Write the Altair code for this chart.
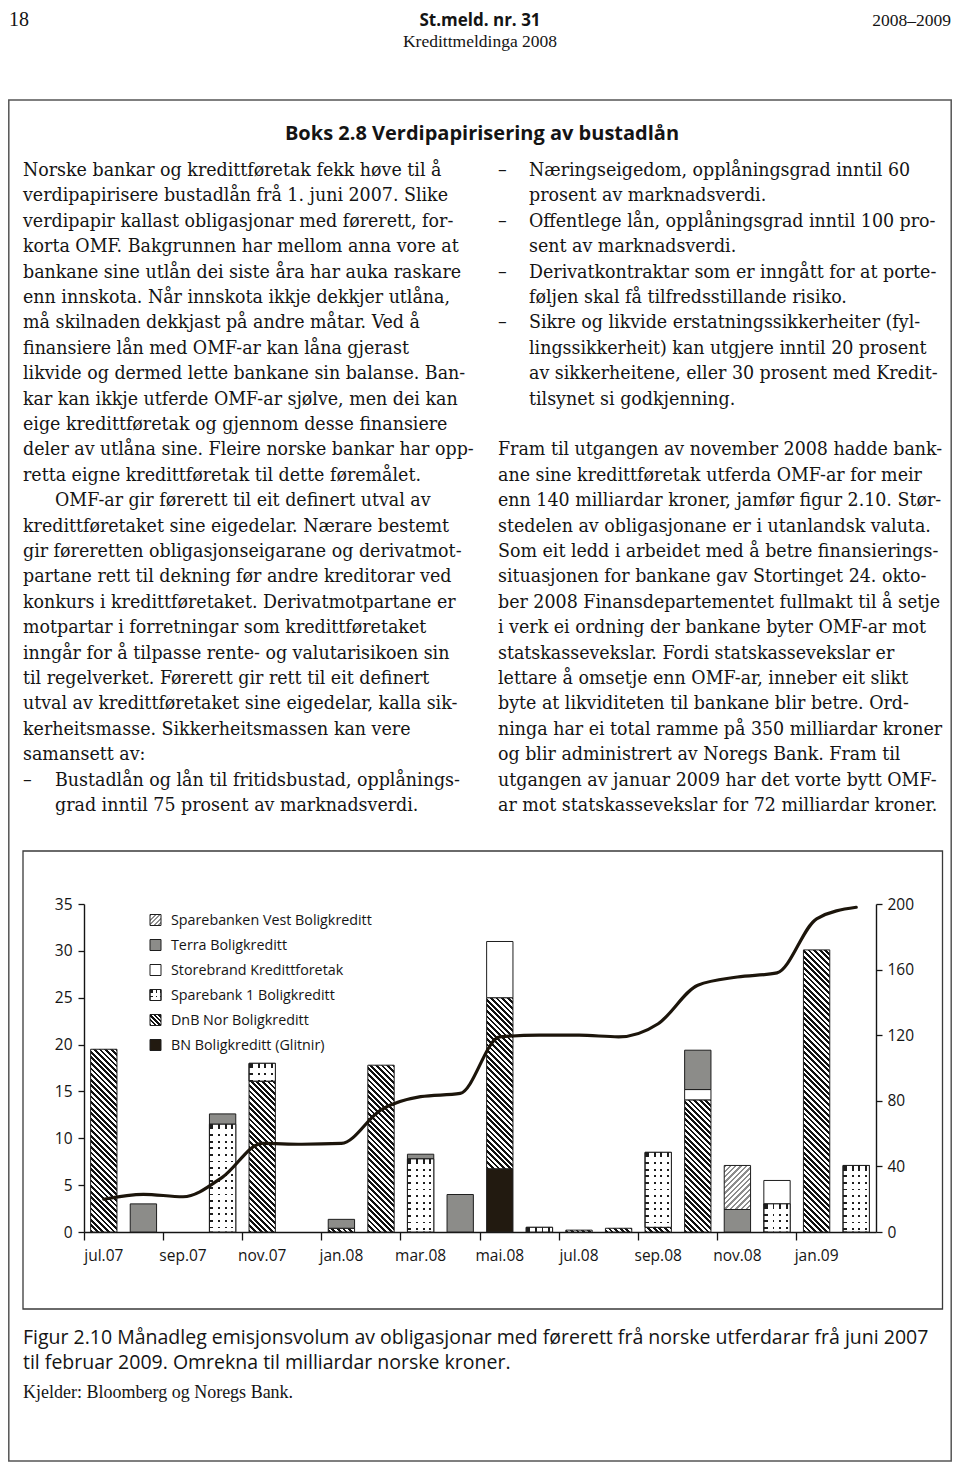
import math
import altair as alt
import pandas as pd

# ---------------- data ----------------
months = ["jul.07", "aug.07", "sep.07", "okt.07", "nov.07", "des.07", "jan.08",
          "feb.08", "mar.08", "apr.08", "mai.08", "jun.08", "jul.08", "aug.08",
          "sep.08", "okt.08", "nov.08", "des.08", "jan.09", "feb.09"]

bn_glitnir = [0, 0, 0, 0, 0, 0, 0, 0, 0, 0, 6.75, 0, 0, 0, 0, 0, 0, 0, 0, 0]
dnb_nor = [19.5, 0, 0, 0, 16.1, 0, 0.4, 17.8, 0, 0, 18.25, 0, 0.2, 0.4, 0.5, 14.1, 0, 0, 30.1, 0]
sparebank1 = [0, 0, 0, 11.5, 1.9, 0, 0, 0, 7.8, 0, 0, 0.5, 0, 0, 8.0, 0, 0, 3.0, 0, 7.1]
storebrand = [0, 0, 0, 0, 0, 0, 0, 0, 0, 0, 6.0, 0, 0, 0, 0, 1.1, 0, 2.5, 0, 0]
terra = [0, 3.0, 0, 1.1, 0, 0, 0.95, 0, 0.5, 4.0, 0, 0, 0, 0, 0, 4.2, 2.4, 0, 0, 0]
spvest = [0, 0, 0, 0, 0, 0, 0, 0, 0, 0, 0, 0, 0, 0, 0, 0, 4.7, 0, 0, 0]

cumulative_total = [20, 23, 21.5, 33.5, 54, 53.5, 54, 74.5, 82.5, 84.5, 119, 120, 120,
                    119, 127, 150.5, 155.5, 158, 191, 198]

left_ticks = [0, 5, 10, 15, 20, 25, 30, 35]
right_ticks = [0, 40, 80, 120, 160, 200]
x_label_months = months[0::2]

legend_names = ["Sparebanken Vest Boligkreditt", "Terra Boligkreditt",
                "Storebrand Kredittforetak", "Sparebank 1 Boligkreditt",
                "DnB Nor Boligkreditt", "BN Boligkreditt (Glitnir)"]

# stacking order, bottom -> top
stack_series = [
    ("BN Boligkreditt (Glitnir)", bn_glitnir),
    ("DnB Nor Boligkreditt", dnb_nor),
    ("Sparebank 1 Boligkreditt", sparebank1),
    ("Storebrand Kredittforetak", storebrand),
    ("Terra Boligkreditt", terra),
    ("Sparebanken Vest Boligkreditt", spvest),
]

header_left = "18"
header_center = "St.meld. nr. 31"
header_sub = "Kredittmeldinga 2008"
header_right = "2008–2009"
box_title = "Boks 2.8  Verdipapirisering av bustadlån"

left_par1 = [
    "Norske bankar og kredittføretak fekk høve til å",
    "verdipapirisere bustadlån frå 1. juni 2007. Slike",
    "verdipapir kallast obligasjonar med førerett, for-",
    "korta OMF. Bakgrunnen har mellom anna vore at",
    "bankane sine utlån dei siste åra har auka raskare",
    "enn innskota. Når innskota ikkje dekkjer utlåna,",
    "må skilnaden dekkjast på andre måtar. Ved å",
    "finansiere lån med OMF-ar kan låna gjerast",
    "likvide og dermed lette bankane sin balanse. Ban-",
    "kar kan ikkje utferde OMF-ar sjølve, men dei kan",
    "eige kredittføretak og gjennom desse finansiere",
    "deler av utlåna sine. Fleire norske bankar har opp-",
    "retta eigne kredittføretak til dette føremålet.",
]
left_par2_first = "OMF-ar gir førerett til eit definert utval av"
left_par2 = [
    "kredittføretaket sine eigedelar. Nærare bestemt",
    "gir føreretten obligasjonseigarane og derivatmot-",
    "partane rett til dekning før andre kreditorar ved",
    "konkurs i kredittføretaket. Derivatmotpartane er",
    "motpartar i forretningar som kredittføretaket",
    "inngår for å tilpasse rente- og valutarisikoen sin",
    "til regelverket. Førerett gir rett til eit definert",
    "utval av kredittføretaket sine eigedelar, kalla sik-",
    "kerheitsmasse. Sikkerheitsmassen kan vere",
    "samansett av:",
]
left_bullet = ["Bustadlån og lån til fritidsbustad, opplånings-",
               "grad inntil 75 prosent av marknadsverdi."]

right_bullets = [
    "Næringseigedom, opplåningsgrad inntil 60",
    "prosent av marknadsverdi.",
    "Offentlege lån, opplåningsgrad inntil 100 pro-",
    "sent av marknadsverdi.",
    "Derivatkontraktar som er inngått for at porte-",
    "føljen skal få tilfredsstillande risiko.",
    "Sikre og likvide erstatningssikkerheiter (fyl-",
    "lingssikkerheit) kan utgjere inntil 20 prosent",
    "av sikkerheitene, eller 30 prosent med Kredit-",
    "tilsynet si godkjenning.",
]
right_dash_lines = [0, 2, 4, 6]
right_par = [
    "Fram til utgangen av november 2008 hadde bank-",
    "ane sine kredittføretak utferda OMF-ar for meir",
    "enn 140 milliardar kroner, jamfør figur 2.10. Stør-",
    "stedelen av obligasjonane er i utanlandsk valuta.",
    "Som eit ledd i arbeidet med å betre finansierings-",
    "situasjonen for bankane gav Stortinget 24. okto-",
    "ber 2008 Finansdepartementet fullmakt til å setje",
    "i verk ei ordning der bankane byter OMF-ar mot",
    "statskassevekslar. Fordi statskassevekslar er",
    "lettare å omsetje enn OMF-ar, inneber eit slikt",
    "byte at likviditeten til bankane blir betre. Ord-",
    "ninga har ei total ramme på 350 milliardar kroner",
    "og blir administrert av Noregs Bank. Fram til",
    "utgangen av januar 2009 har det vorte bytt OMF-",
    "ar mot statskassevekslar for 72 milliardar kroner.",
]
caption_lines = ["Figur 2.10  Månadleg emisjonsvolum av obligasjonar med førerett frå norske utferdarar frå juni 2007",
                 "til februar 2009. Omrekna til milliardar norske kroner."]
source_line = "Kjelder: Bloomberg og Noregs Bank."

# ---------------- layout (page pixels) ----------------
OFF = 8
W, H = 944, 1454


def c(p):
    return p - OFF


X_LEFT, X_RIGHT = 84, 876
Y_BASE, Y_TOP = 1232, 904
BAR_FRAC = 0.665
band_px = (X_RIGHT - X_LEFT) / len(months)
bar_w = band_px * BAR_FRAC
px_per_unit = (Y_BASE - Y_TOP) / 35.0

SERIF = "DejaVu Serif Condensed, DejaVu Serif"
SERIF2 = "Liberation Serif"
SANS = "Open Sans"
INK = "#141414"


# ---------------- pattern fills (gradients) ----------------
def stripe_stops(length, period, dark_frac, dark, light, phase=0.0):
    stops = []
    pos = -phase
    while pos < length:
        a = max(pos, 0) / length
        b = min(max(pos + dark_frac * period, 0) / length, 1.0)
        e = min((pos + period) / length, 1.0)
        stops.append({"offset": round(a, 5), "color": dark})
        stops.append({"offset": round(b, 5), "color": dark})
        if b < 1.0:
            stops.append({"offset": round(b, 5), "color": light})
            stops.append({"offset": round(e, 5), "color": light})
        pos += period
    return stops


def hatch_back(w, h, period=5.6, frac=0.5, dark="#111111", light="#ffffff"):
    L = w + h
    k = L / (w * w + h * h)
    return {"gradient": "linear", "x1": 0, "y1": 1, "x2": k * w, "y2": 1 - k * h,
            "stops": stripe_stops(L, period, frac, dark, light)}


def hatch_fwd(w, h, period=5.4, frac=0.45, dark="#8d8d8d", light="#ffffff"):
    L = w + h
    k = L / (w * w + h * h)
    return {"gradient": "linear", "x1": 0, "y1": 0, "x2": k * w, "y2": k * h,
            "stops": stripe_stops(L, period, frac, dark, light)}


def dot_rows(h, period=6.6):
    return {"gradient": "linear", "x1": 0, "y1": 0, "x2": 0, "y2": 1,
            "stops": stripe_stops(h, period, 0.27, "#1e1e1e", "#ffffff", phase=-period / 2)}


def dot_cols(w, period=6.6):
    return {"gradient": "linear", "x1": 0, "y1": 0, "x2": 1, "y2": 0,
            "stops": stripe_stops(w, period, 0.27, "rgba(255,255,255,0)", "#ffffff",
                                  phase=-period / 3)}


SOLID = {"Terra Boligkreditt": "#8c8c89", "Storebrand Kredittforetak": "#ffffff",
         "BN Boligkreditt (Glitnir)": "#221a10"}


def fill_for(name, w, h):
    if name == "DnB Nor Boligkreditt":
        return hatch_back(w, h)
    if name == "Sparebanken Vest Boligkreditt":
        return hatch_fwd(w, h)
    if name == "Sparebank 1 Boligkreditt":
        return dot_rows(h)
    return SOLID[name]


rows = []
for order, (name, vals) in enumerate(stack_series):
    for m, v in zip(months, vals):
        if v > 0:
            h = v * px_per_unit
            r = {"month": m, "company": name, "value": v, "order": order,
                 "fill": fill_for(name, bar_w, h)}
            if name == "Sparebank 1 Boligkreditt":
                r["fill2"] = dot_cols(bar_w)
            rows.append(r)

line_df = pd.DataFrame({"month": months, "total": cumulative_total})

# ---------------- scales / axes ----------------
AX_FS = 15.5
x_scale = alt.Scale(domain=months, range=[c(X_LEFT), c(X_RIGHT)], paddingInner=0, paddingOuter=0)
x_axis = alt.Axis(values=x_label_months, orient="bottom", offset=-(H - c(Y_BASE)), title=None,
                  bandPosition=0, tickSize=8, tickWidth=1.3, tickColor=INK, domainColor=INK,
                  domainWidth=1.4, labelFont=SANS, labelFontSize=AX_FS, labelColor=INK,
                  labelPadding=8, labelAngle=0, grid=False)
yl_scale = alt.Scale(domain=[0, 35], range=[c(Y_BASE), c(Y_TOP)], nice=False, zero=False)
yl_axis = alt.Axis(values=left_ticks, orient="left", offset=-c(X_LEFT), title=None, grid=False,
                   tickSize=6, tickWidth=1.3, tickColor=INK, domainColor=INK, domainWidth=1.4,
                   labelFont=SANS, labelFontSize=AX_FS, labelColor=INK, labelPadding=6)
yr_scale = alt.Scale(domain=[0, 200], range=[c(Y_BASE), c(Y_TOP)], nice=False, zero=False)
yr_axis = alt.Axis(values=right_ticks, orient="right", offset=-(W - c(X_RIGHT)), title=None,
                   grid=False, tickSize=6, tickWidth=1.3, tickColor=INK, domainColor=INK,
                   domainWidth=1.4, labelFont=SANS, labelFontSize=AX_FS, labelColor=INK,
                   labelPadding=5)


def xenc():
    return alt.X("month:N", sort=months, scale=x_scale, axis=x_axis)


stack_base = alt.Chart(alt.Data(values=rows)).transform_stack(
    stack="value", groupby=["month"], as_=["y0", "y1"],
    sort=[alt.SortField("order", order="ascending")])

bars = stack_base.mark_bar(width=alt.RelativeBandSize(BAR_FRAC), stroke="#1e1e1e",
                           strokeWidth=1).encode(
    x=xenc(),
    y=alt.Y("y1:Q", scale=yl_scale, axis=yl_axis),
    y2="y0:Q",
    fill=alt.Fill("fill:N", scale=None),
)
dots = stack_base.transform_filter(alt.datum.company == "Sparebank 1 Boligkreditt").mark_bar(
    width=alt.RelativeBandSize(BAR_FRAC), stroke="#1e1e1e", strokeWidth=1).encode(
    x=xenc(),
    y=alt.Y("y1:Q", scale=yl_scale, axis=yl_axis),
    y2="y0:Q",
    fill=alt.Fill("fill2:N", scale=None),
)
bar_group = alt.layer(bars, dots)

line = alt.Chart(line_df).mark_line(interpolate="monotone", color="#1c150b",
                                    strokeWidth=3.2, strokeCap="round").encode(
    x=xenc(),
    y=alt.Y("total:Q", scale=yr_scale, axis=yr_axis),
)

ONE = alt.Data(values=[{"k": 0}])


def text_layer(lines, x, y, size, font, weight="normal", align="left", lh=None, color=INK):
    kw = dict(align=align, baseline="alphabetic", font=font, fontSize=size,
              fontWeight=weight, color=color)
    if isinstance(lines, list) and len(lines) > 1:
        kw["text"] = lines
        kw["lineHeight"] = lh
    else:
        kw["text"] = lines if isinstance(lines, str) else lines[0]
    return alt.Chart(ONE).mark_text(**kw).encode(x=alt.value(c(x)), y=alt.value(c(y)))


def box_layer(x1, y1, x2, y2, color, sw):
    return alt.Chart(ONE).mark_rect(fillOpacity=0, stroke=color, strokeWidth=sw).encode(
        x=alt.value(c(x1)), x2=alt.value(c(x2)), y=alt.value(c(y1)), y2=alt.value(c(y2)))


def swatch_layer(x1, y1, x2, y2, fill):
    return alt.Chart(ONE).mark_rect(fill=fill, stroke="#1e1e1e", strokeWidth=1).encode(
        x=alt.value(c(x1)), x2=alt.value(c(x2)), y=alt.value(c(y1)), y2=alt.value(c(y2)))


layers = []
# frames
layers.append(box_layer(8.8, 100, 951.2, 1461, "#555555", 1.5))
layers.append(box_layer(23, 851, 942.5, 1309, "#3a3a3a", 1.3))

# header
layers.append(text_layer(header_left, 9, 26, 20, SERIF2))
layers.append(text_layer(header_center, 480, 26, 17, SANS, weight="bold", align="center"))
layers.append(text_layer(header_sub, 480, 47, 17.5, SERIF2, align="center"))
layers.append(text_layer(header_right, 951, 26, 17.5, SERIF2, align="right"))
layers.append(text_layer(box_title, 482, 140, 20, SANS, weight="bold", align="center"))

# body text
LH = 25.4
BASE0 = 176
FS = 19.4
layers.append(text_layer(left_par1, 23, BASE0, FS, SERIF, lh=LH))
layers.append(text_layer(left_par2_first, 55, BASE0 + 13 * LH, FS, SERIF))
layers.append(text_layer(left_par2, 23, BASE0 + 14 * LH, FS, SERIF, lh=LH))
layers.append(text_layer("–", 23, BASE0 + 24 * LH, FS, SERIF))
layers.append(text_layer(left_bullet, 55, BASE0 + 24 * LH, FS, SERIF, lh=LH))
for i in right_dash_lines:
    layers.append(text_layer("–", 498, BASE0 + i * LH, FS, SERIF))
layers.append(text_layer(right_bullets, 529, BASE0, FS, SERIF, lh=LH))
layers.append(text_layer(right_par, 498, BASE0 + 11 * LH, FS, SERIF, lh=LH))

# chart
layers.append(bar_group)
layers.append(line)

# legend
LEG_X, LEG_Y0, LEG_DY = 150, 920, 25
sw = 11
for i, name in enumerate(legend_names):
    cy = LEG_Y0 + i * LEG_DY
    y1, y2 = cy - sw / 2, cy + sw / 2
    if name == "Sparebank 1 Boligkreditt":
        layers.append(swatch_layer(LEG_X, y1, LEG_X + sw, y2, dot_rows(sw, 4.4)))
        layers.append(swatch_layer(LEG_X, y1, LEG_X + sw, y2, dot_cols(sw, 4.4)))
    elif name == "DnB Nor Boligkreditt":
        layers.append(swatch_layer(LEG_X, y1, LEG_X + sw, y2, hatch_back(sw, sw, 4.6, 0.5)))
    elif name == "Sparebanken Vest Boligkreditt":
        layers.append(swatch_layer(LEG_X, y1, LEG_X + sw, y2, hatch_fwd(sw, sw, 4.6, 0.45)))
    else:
        layers.append(swatch_layer(LEG_X, y1, LEG_X + sw, y2, SOLID[name]))
layers.append(text_layer(legend_names, 171, LEG_Y0 + 5, 14.3, SANS, lh=LEG_DY))

# caption
layers.append(text_layer(caption_lines, 23, 1344, 19.5, SANS, lh=25))
layers.append(text_layer(source_line, 23, 1398, 18, SERIF2))

chart = alt.layer(*layers).resolve_scale(y="independent").properties(
    width=W, height=H, padding=0, autosize=alt.AutoSizeParams(type="none"),
    background="white",
).configure_view(stroke="transparent")

chart.save("out.html", embed_options={"renderer": "svg", "actions": False})
